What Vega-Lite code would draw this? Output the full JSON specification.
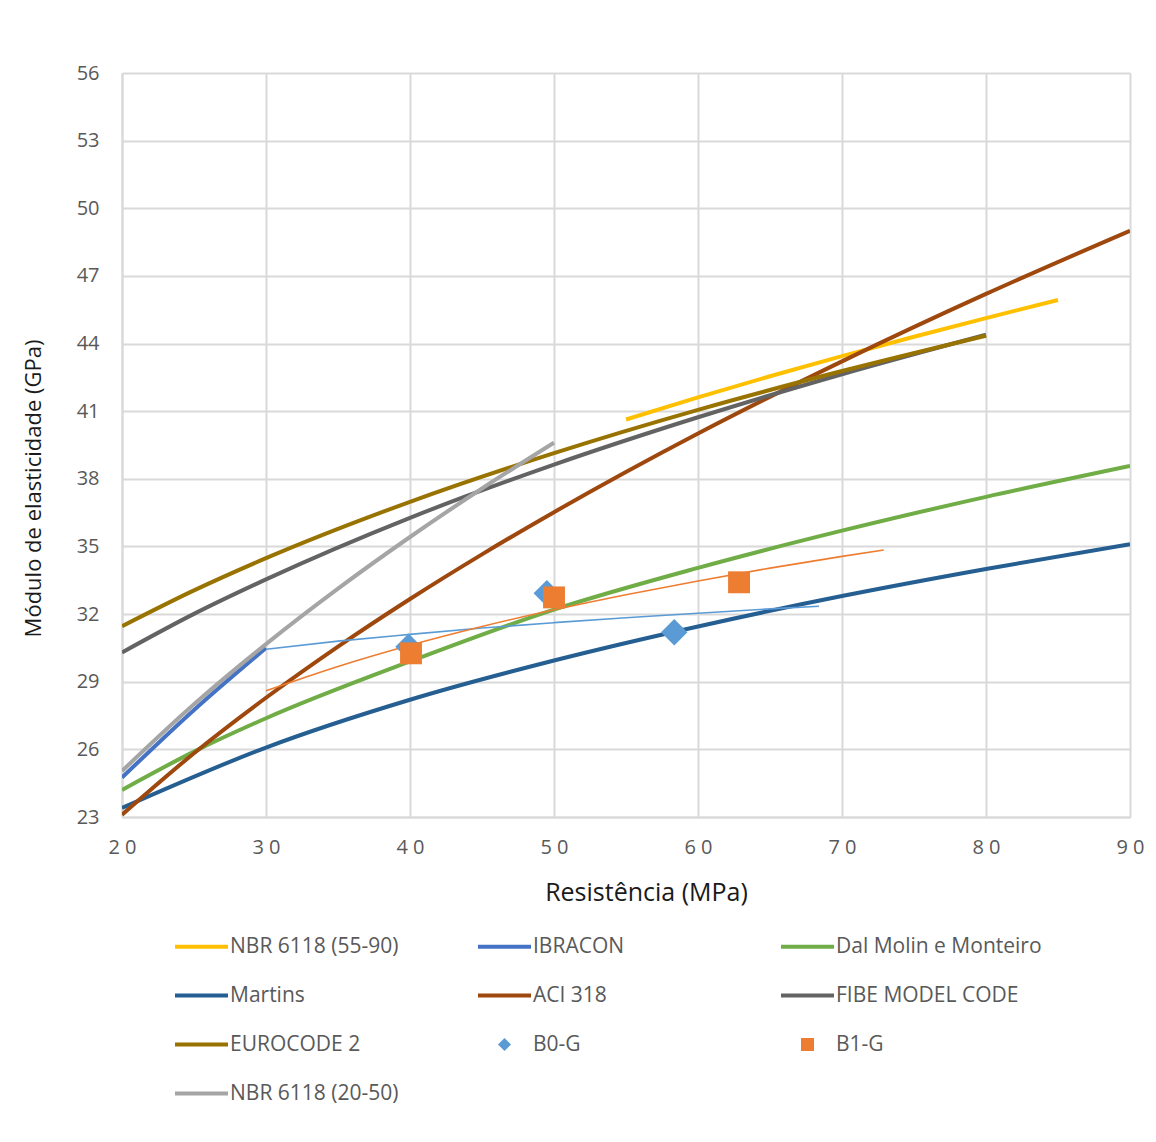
{
  "$schema": "https://vega.github.io/schema/vega-lite/v6.json",
  "width": 1008,
  "height": 744,
  "autosize": "none",
  "padding": {"left": 122, "top": 73, "right": 26, "bottom": 325},
  "background": "white",
  "config": {
    "view": {"stroke": null},
    "font": "Open Sans"
  },
  "data": {
    "values": [
      {"series": "NBR 6118 (55-90)", "kind": "curve", "fc": 55, "E": 40.63},
      {"series": "NBR 6118 (55-90)", "kind": "curve", "fc": 60, "E": 41.61},
      {"series": "NBR 6118 (55-90)", "kind": "curve", "fc": 65, "E": 42.55},
      {"series": "NBR 6118 (55-90)", "kind": "curve", "fc": 70, "E": 43.44},
      {"series": "NBR 6118 (55-90)", "kind": "curve", "fc": 75, "E": 44.3},
      {"series": "NBR 6118 (55-90)", "kind": "curve", "fc": 80, "E": 45.13},
      {"series": "NBR 6118 (55-90)", "kind": "curve", "fc": 85, "E": 45.93},

      {"series": "IBRACON", "kind": "curve", "fc": 20, "E": 24.75},
      {"series": "IBRACON", "kind": "curve", "fc": 25, "E": 27.75},
      {"series": "IBRACON", "kind": "curve", "fc": 30, "E": 30.5},

      {"series": "Dal Molin e Monteiro", "kind": "curve", "fc": 20, "E": 24.2},
      {"series": "Dal Molin e Monteiro", "kind": "curve", "fc": 25, "E": 25.9},
      {"series": "Dal Molin e Monteiro", "kind": "curve", "fc": 30, "E": 27.38},
      {"series": "Dal Molin e Monteiro", "kind": "curve", "fc": 40, "E": 29.9},
      {"series": "Dal Molin e Monteiro", "kind": "curve", "fc": 50, "E": 32.2},
      {"series": "Dal Molin e Monteiro", "kind": "curve", "fc": 60, "E": 34.05},
      {"series": "Dal Molin e Monteiro", "kind": "curve", "fc": 70, "E": 35.7},
      {"series": "Dal Molin e Monteiro", "kind": "curve", "fc": 80, "E": 37.2},
      {"series": "Dal Molin e Monteiro", "kind": "curve", "fc": 90, "E": 38.57},

      {"series": "Martins", "kind": "curve", "fc": 20, "E": 23.4},
      {"series": "Martins", "kind": "curve", "fc": 30, "E": 26.08},
      {"series": "Martins", "kind": "curve", "fc": 40, "E": 28.2},
      {"series": "Martins", "kind": "curve", "fc": 50, "E": 29.94},
      {"series": "Martins", "kind": "curve", "fc": 60, "E": 31.45},
      {"series": "Martins", "kind": "curve", "fc": 70, "E": 32.8},
      {"series": "Martins", "kind": "curve", "fc": 80, "E": 34.0},
      {"series": "Martins", "kind": "curve", "fc": 90, "E": 35.1},

      {"series": "ACI 318", "kind": "curve", "fc": 20, "E": 23.1},
      {"series": "ACI 318", "kind": "curve", "fc": 25, "E": 25.83},
      {"series": "ACI 318", "kind": "curve", "fc": 30, "E": 28.29},
      {"series": "ACI 318", "kind": "curve", "fc": 35, "E": 30.56},
      {"series": "ACI 318", "kind": "curve", "fc": 40, "E": 32.67},
      {"series": "ACI 318", "kind": "curve", "fc": 45, "E": 34.65},
      {"series": "ACI 318", "kind": "curve", "fc": 50, "E": 36.52},
      {"series": "ACI 318", "kind": "curve", "fc": 60, "E": 40.01},
      {"series": "ACI 318", "kind": "curve", "fc": 70, "E": 43.21},
      {"series": "ACI 318", "kind": "curve", "fc": 80, "E": 46.2},
      {"series": "ACI 318", "kind": "curve", "fc": 90, "E": 49.0},

      {"series": "FIBE MODEL CODE", "kind": "curve", "fc": 20, "E": 30.3},
      {"series": "FIBE MODEL CODE", "kind": "curve", "fc": 25, "E": 32.01},
      {"series": "FIBE MODEL CODE", "kind": "curve", "fc": 30, "E": 33.54},
      {"series": "FIBE MODEL CODE", "kind": "curve", "fc": 40, "E": 36.27},
      {"series": "FIBE MODEL CODE", "kind": "curve", "fc": 50, "E": 38.63},
      {"series": "FIBE MODEL CODE", "kind": "curve", "fc": 60, "E": 40.73},
      {"series": "FIBE MODEL CODE", "kind": "curve", "fc": 70, "E": 42.64},
      {"series": "FIBE MODEL CODE", "kind": "curve", "fc": 80, "E": 44.39},

      {"series": "EUROCODE 2", "kind": "curve", "fc": 20, "E": 31.46},
      {"series": "EUROCODE 2", "kind": "curve", "fc": 25, "E": 33.05},
      {"series": "EUROCODE 2", "kind": "curve", "fc": 30, "E": 34.48},
      {"series": "EUROCODE 2", "kind": "curve", "fc": 40, "E": 36.98},
      {"series": "EUROCODE 2", "kind": "curve", "fc": 50, "E": 39.14},
      {"series": "EUROCODE 2", "kind": "curve", "fc": 60, "E": 41.06},
      {"series": "EUROCODE 2", "kind": "curve", "fc": 70, "E": 42.78},
      {"series": "EUROCODE 2", "kind": "curve", "fc": 80, "E": 44.35},

      {"series": "NBR 6118 (20-50)", "kind": "curve", "fc": 20, "E": 25.04},
      {"series": "NBR 6118 (20-50)", "kind": "curve", "fc": 25, "E": 28.0},
      {"series": "NBR 6118 (20-50)", "kind": "curve", "fc": 30, "E": 30.67},
      {"series": "NBR 6118 (20-50)", "kind": "curve", "fc": 35, "E": 33.13},
      {"series": "NBR 6118 (20-50)", "kind": "curve", "fc": 40, "E": 35.42},
      {"series": "NBR 6118 (20-50)", "kind": "curve", "fc": 45, "E": 37.57},
      {"series": "NBR 6118 (20-50)", "kind": "curve", "fc": 50, "E": 39.6},

      {"series": "B0-G", "kind": "trend", "fc": 30, "E": 30.44},
      {"series": "B0-G", "kind": "trend", "fc": 35, "E": 30.8},
      {"series": "B0-G", "kind": "trend", "fc": 40, "E": 31.1},
      {"series": "B0-G", "kind": "trend", "fc": 45, "E": 31.38},
      {"series": "B0-G", "kind": "trend", "fc": 50, "E": 31.62},
      {"series": "B0-G", "kind": "trend", "fc": 55, "E": 31.84},
      {"series": "B0-G", "kind": "trend", "fc": 60, "E": 32.04},
      {"series": "B0-G", "kind": "trend", "fc": 65, "E": 32.23},
      {"series": "B0-G", "kind": "trend", "fc": 68.4, "E": 32.35},

      {"series": "B1-G", "kind": "trend", "fc": 30, "E": 28.6},
      {"series": "B1-G", "kind": "trend", "fc": 35, "E": 29.68},
      {"series": "B1-G", "kind": "trend", "fc": 40, "E": 30.62},
      {"series": "B1-G", "kind": "trend", "fc": 45, "E": 31.45},
      {"series": "B1-G", "kind": "trend", "fc": 50, "E": 32.19},
      {"series": "B1-G", "kind": "trend", "fc": 55, "E": 32.86},
      {"series": "B1-G", "kind": "trend", "fc": 60, "E": 33.47},
      {"series": "B1-G", "kind": "trend", "fc": 65, "E": 34.04},
      {"series": "B1-G", "kind": "trend", "fc": 70, "E": 34.56},
      {"series": "B1-G", "kind": "trend", "fc": 72.9, "E": 34.84},

      {"series": "B0-G", "kind": "point", "fc": 39.9, "E": 30.55},
      {"series": "B0-G", "kind": "point", "fc": 49.5, "E": 32.92},
      {"series": "B0-G", "kind": "point", "fc": 58.35, "E": 31.19},
      {"series": "B1-G", "kind": "point", "fc": 40.07, "E": 30.26},
      {"series": "B1-G", "kind": "point", "fc": 50.0, "E": 32.74},
      {"series": "B1-G", "kind": "point", "fc": 62.85, "E": 33.41}
    ]
  },
  "encoding": {
    "x": {
      "field": "fc",
      "type": "quantitative",
      "scale": {"domain": [20, 90], "nice": false, "zero": false},
      "axis": {
        "values": [20, 30, 40, 50, 60, 70, 80, 90],
        "labelExpr": "join(split(datum.label, ''), ' ')",
        "labelFlush": false,
        "labelFont": "Open Sans",
        "labelFontSize": 20,
        "labelColor": "#595959",
        "labelPadding": 20,
        "ticks": false,
        "domainColor": "#d9d9d9",
        "domainWidth": 2,
        "gridColor": "#d9d9d9",
        "gridWidth": 2,
        "title": "Resistência (MPa)",
        "titleFont": "Open Sans",
        "titleFontSize": 25,
        "titleFontWeight": "normal",
        "titleColor": "#1a1a1a",
        "titleX": 524,
        "titleY": 75,
        "titleBaseline": "middle"
      }
    },
    "y": {
      "field": "E",
      "type": "quantitative",
      "scale": {"domain": [23, 56], "nice": false, "zero": false},
      "axis": {
        "values": [23, 26, 29, 32, 35, 38, 41, 44, 47, 50, 53, 56],
        "labelFont": "Open Sans",
        "labelFontSize": 20,
        "labelColor": "#595959",
        "labelPadding": 23,
        "ticks": false,
        "domainColor": "#d9d9d9",
        "domainWidth": 2,
        "gridColor": "#d9d9d9",
        "gridWidth": 2,
        "title": "Módulo de elasticidade (GPa)",
        "titleFont": "Open Sans",
        "titleFontSize": 22,
        "titleFontWeight": "normal",
        "titleColor": "#1a1a1a",
        "titleX": -89,
        "titleY": 415,
        "titleAngle": 270,
        "titleAlign": "center",
        "titleBaseline": "middle"
      }
    },
    "color": {
      "field": "series",
      "type": "nominal",
      "scale": {
        "domain": ["NBR 6118 (55-90)", "IBRACON", "Dal Molin e Monteiro", "Martins", "ACI 318", "FIBE MODEL CODE", "EUROCODE 2", "B0-G", "B1-G", "NBR 6118 (20-50)"],
        "range": ["#FFC000", "#4472C4", "#70AD47", "#255E91", "#9E480E", "#636363", "#997300", "#5B9BD5", "#ED7D31", "#A5A5A5"]
      },
      "legend": {
        "title": null,
        "orient": "none",
        "legendX": 69,
        "legendY": 863,
        "direction": "horizontal",
        "columns": 3,
        "gridAlign": "all",
        "columnPadding": 34,
        "rowPadding": 27,
        "padding": 0,
        "symbolSize": 2809,
        "symbolType": "stroke",
        "symbolStrokeWidth": 4,
        "labelFont": "Open Sans",
        "labelFontSize": 21,
        "labelColor": "#595959",
        "labelOffset": 18,
        "labelLimit": 400,
        "encode": {
          "symbols": {
            "update": {
              "shape": {"signal": "datum.value === 'B0-G' ? 'diamond' : datum.value === 'B1-G' ? 'square' : 'stroke'"},
              "size": {"signal": "datum.value === 'B0-G' || datum.value === 'B1-G' ? 170 : 2809"},
              "strokeWidth": {"signal": "datum.value === 'B0-G' || datum.value === 'B1-G' ? 0 : 4"},
              "fill": {"scale": "color", "field": "value"},
              "stroke": {"scale": "color", "field": "value"},
              "opacity": {"value": 1}
            }
          }
        }
      }
    }
  },
  "layer": [
    {
      "transform": [{"filter": "datum.kind === 'curve'"}],
      "mark": {"type": "line", "strokeWidth": 4, "interpolate": "monotone", "clip": true}
    },
    {
      "transform": [{"filter": "datum.kind === 'trend'"}],
      "mark": {"type": "line", "strokeWidth": 1.6, "interpolate": "monotone", "clip": true}
    },
    {
      "transform": [{"filter": "datum.kind === 'point'"}],
      "mark": {"type": "point", "filled": true, "opacity": 1},
      "encoding": {
        "shape": {
          "field": "series",
          "type": "nominal",
          "scale": {"domain": ["B0-G", "B1-G"], "range": ["diamond", "square"]},
          "legend": null
        },
        "size": {
          "field": "series",
          "type": "nominal",
          "scale": {"domain": ["B0-G", "B1-G"], "range": [700, 480]},
          "legend": null
        }
      }
    }
  ]
}
